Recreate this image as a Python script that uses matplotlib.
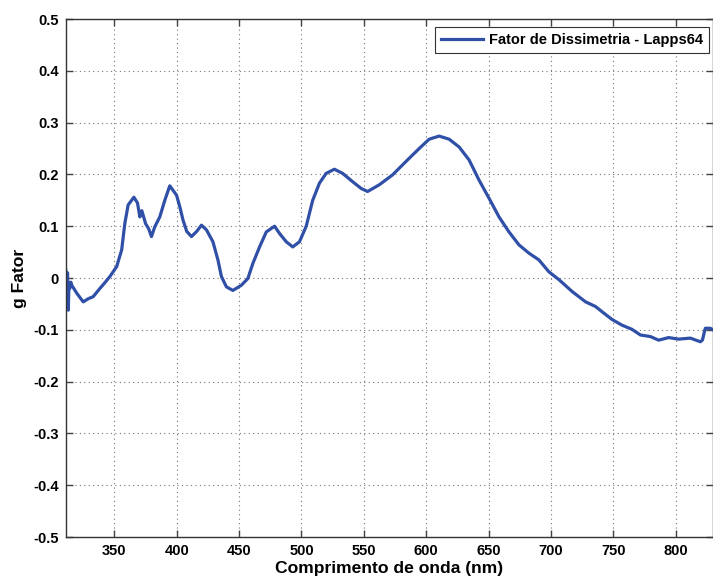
import matplotlib.pyplot as plt

plt.rcParams['font.family'] = ['Liberation Sans', 'DejaVu Sans']
plt.rcParams['font.weight'] = 'bold'

# comprimento de onda (nm) e fator de dissimetria g
comprimento = [311.0, 311.8, 312.4, 313.0, 313.6, 314.2, 315.0, 315.8, 320.0, 325.0, 329.0,
               333.0, 338.4, 342.0, 346.4, 351.8, 355.8, 358.4, 361.0, 365.6, 368.5,
               370.4, 372.0, 375.0, 377.5, 379.7, 382.4, 386.4, 390.4, 394.4, 399.8,
               402.4, 405.0, 408.0, 411.8, 416.0, 419.8, 423.8, 429.0, 433.0, 435.8,
               439.8, 445.0, 451.8, 457.0, 461.0, 466.4, 471.8, 478.4, 482.4, 487.8,
               493.0, 498.4, 503.8, 509.0, 514.4, 519.8, 526.4, 533.0, 541.0, 547.8,
               553.0, 562.4, 573.0, 583.8, 594.4, 602.4, 610.4, 618.4, 626.4, 634.4,
               642.4, 650.4, 658.4, 666.4, 674.4, 682.4, 690.4, 698.4, 706.4, 717.0,
               727.8, 735.8, 741.0, 749.0, 757.0, 765.0, 771.8, 779.8, 786.4, 794.4,
               802.4, 811.8, 819.8, 821.5, 823.8, 827.8, 830.0]
g_fator = [0.015, -0.040, 0.010, -0.062, -0.010, -0.020, -0.008, -0.014, -0.030, -0.046, -0.040,
           -0.036, -0.020, -0.010, 0.003, 0.022, 0.054, 0.106, 0.141, 0.156, 0.145,
           0.118, 0.130, 0.105, 0.095, 0.080, 0.099, 0.118, 0.150, 0.178, 0.160,
           0.138, 0.112, 0.090, 0.080, 0.090, 0.102, 0.093, 0.070, 0.035, 0.003,
           -0.017, -0.024, -0.014, -0.001, 0.028, 0.060, 0.089, 0.100, 0.086, 0.070,
           0.060, 0.070, 0.100, 0.150, 0.183, 0.202, 0.210, 0.202, 0.186, 0.173,
           0.167, 0.180, 0.199, 0.225, 0.250, 0.268, 0.274, 0.268, 0.253, 0.228,
           0.189, 0.154, 0.118, 0.089, 0.064, 0.048, 0.035, 0.012, -0.003, -0.026,
           -0.046, -0.055, -0.065, -0.080, -0.091, -0.099, -0.110, -0.113, -0.120, -0.115,
           -0.118, -0.116, -0.123, -0.120, -0.097, -0.097, -0.100]

fig = plt.figure(figsize=(7.13, 5.78), dpi=100)
ax = fig.add_axes([0.0919, 0.0709, 0.9081, 0.8962])

ax.plot(comprimento, g_fator, color='#3050a8', linewidth=2.3,
        label='Fator de Dissimetria - Lapps64')

ax.set_xlim(310.8, 830)
ax.set_ylim(-0.5, 0.5)
ax.set_xticks(range(350, 801, 50))
ax.set_yticks([-0.5, -0.4, -0.3, -0.2, -0.1, 0, 0.1, 0.2, 0.3, 0.4, 0.5])
ax.set_yticklabels(['-0.5', '-0.4', '-0.3', '-0.2', '-0.1', '0',
                    '0.1', '0.2', '0.3', '0.4', '0.5'])
ax.tick_params(direction='in', top=True, right=True, length=5, width=1,
               color='#444444', labelsize=10.5, pad=5)
for lab in ax.get_xticklabels() + ax.get_yticklabels():
    lab.set_fontweight('bold')

ax.grid(True, linestyle=(0, (1, 3)), color='#777777', linewidth=0.8)
for sp in ax.spines.values():
    sp.set_color('#333333')
    sp.set_linewidth(1.0)

ax.set_xlabel('Comprimento de onda (nm)', fontsize=12.6, fontweight='bold', labelpad=2)
ax.set_ylabel('g Fator', fontsize=12.6, fontweight='bold', labelpad=4)

leg = ax.legend(loc='upper left', bbox_to_anchor=(435 / 713, 1 - 27 / 578),
                bbox_transform=fig.transFigure, fancybox=False, framealpha=1,
                edgecolor='#333333', prop={'size': 10.5, 'weight': 'bold'},
                handlelength=2.9, borderpad=0.4, handletextpad=0.4,
                borderaxespad=0)
leg.get_frame().set_linewidth(0.8)

fig.savefig('out.png', dpi=100)
